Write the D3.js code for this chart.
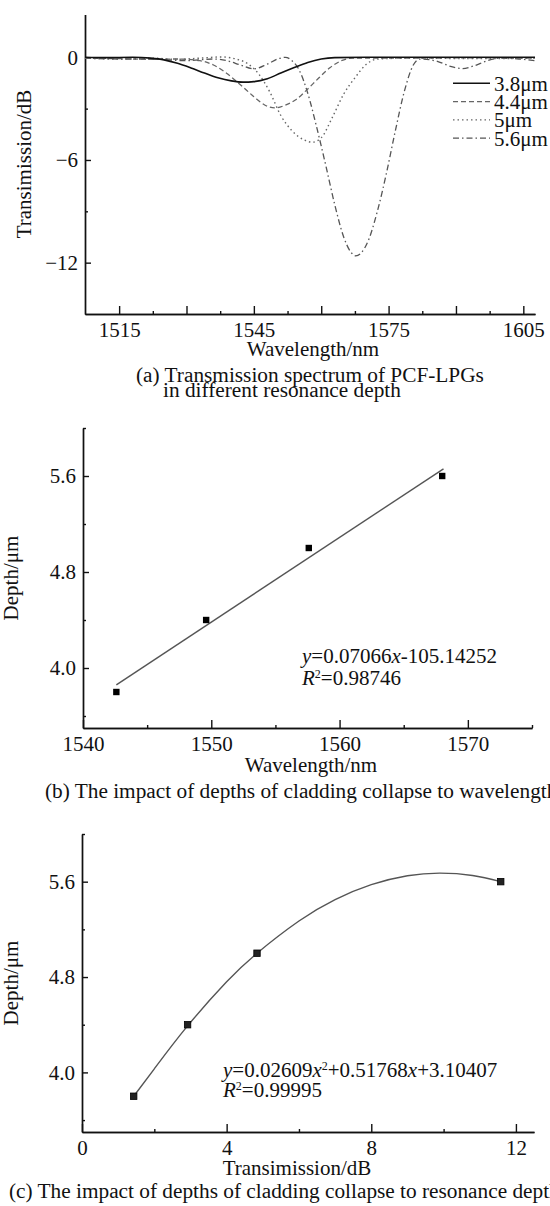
<!DOCTYPE html>
<html lang="en">
<head>
  <meta charset="UTF-8">
  <title>PCF-LPG resonance depth figure</title>
  <script src="https://d3js.org/d3.v7.min.js"></script>
  <style>
    body { margin: 0; background: #fff; }
    svg { display: block; background: #fff; }
    text { font-family: "Liberation Serif", "Times New Roman", serif; font-size: 21px; fill: #111; }
    .axis path, .axis line { stroke: #111; stroke-width: 1.4; }
    .axis text { font-family: "Liberation Serif", "Times New Roman", serif; font-size: 21px; fill: #111; }
    .caption { font-size: 21.3px; }
  </style>
</head>
<body>
  <svg width="550" height="1206"></svg>
  <script>
  // ---- data ----
  // (a) transmission spectra, [wavelength nm, transmission dB]
  const spec38 = [[1507.4,0],[1512,-0.02],[1518,0],[1522,-0.05],[1525,-0.15],[1528,-0.35],[1531,-0.62],[1534,-0.92],[1537,-1.2],[1540,-1.38],[1542.6,-1.45],[1545,-1.42],[1548,-1.25],[1551,-0.92],[1554,-0.6],[1557,-0.3],[1560,-0.1],[1563,-0.02],[1570,0],[1585,0],[1600,0],[1607.6,0]];
  const spec44 = [[1507.4,-0.05],[1515,-0.08],[1522,-0.12],[1528,-0.1],[1533,-0.2],[1536,-0.45],[1539,-0.95],[1542,-1.6],[1545,-2.3],[1547.5,-2.8],[1549.7,-2.96],[1552,-2.8],[1554.5,-2.45],[1557,-1.85],[1559.5,-1.2],[1562,-0.6],[1564.5,-0.2],[1567,-0.05],[1580,-0.05],[1595,-0.03],[1607.6,-0.05]];
  const spec50 = [[1507.4,-0.05],[1515,-0.1],[1522,-0.05],[1528,-0.12],[1533,-0.05],[1538,0.02],[1541,-0.1],[1543.5,-0.35],[1546,-0.95],[1548.5,-2.0],[1551,-3.4],[1553.5,-4.3],[1556,-4.8],[1558,-4.96],[1560,-4.7],[1562.5,-3.5],[1565,-2.15],[1567.5,-1.2],[1570,-0.42],[1572.5,-0.1],[1580,-0.05],[1595,-0.08],[1607.6,-0.05]];
  const spec56 = [[1507.4,-0.05],[1515,-0.1],[1522,-0.1],[1530,-0.2],[1536,-0.1],[1539,-0.2],[1542,-0.45],[1545,-0.68],[1548,-0.4],[1550.5,-0.08],[1552,0],[1553.5,-0.2],[1555,-0.7],[1557,-2.1],[1559,-4.1],[1561,-6.3],[1563,-8.6],[1565,-10.5],[1566.5,-11.35],[1567.7,-11.6],[1569,-11.4],[1570.5,-10.7],[1572.5,-9.0],[1574.5,-6.8],[1576.5,-4.3],[1578.5,-2.0],[1580.5,-0.45],[1582,-0.1],[1586,-0.25],[1589,-0.55],[1591.5,-0.66],[1594,-0.5],[1597,-0.2],[1600,-0.05],[1604,-0.1],[1607.6,-0.2]];
  const legendLabels = ["3.8\u03bcm", "4.4\u03bcm", "5\u03bcm", "5.6\u03bcm"];

  // (b) and (c) measured points
  const depths = [3.8, 4.4, 5.0, 5.6];
  const resonanceWl = [1542.6, 1549.6, 1557.6, 1568.0];
  const resonanceDip = [1.43, 2.92, 4.84, 11.58];
  // fitted line / curve as drawn in the figure
  const fitLineB = [[1542.6, 3.86], [1568.1, 5.66]];
  const fitCurveC = [[1.43,3.80],[2.0,4.03],[2.92,4.39],[4.0,4.76],[4.84,5.00],[6.0,5.27],[7.0,5.45],[8.0,5.575],[9.0,5.65],[9.9,5.672],[10.8,5.652],[11.58,5.60]];

  // tick values
  const xTicksA = [1515, 1530, 1545, 1560, 1575, 1590, 1605];
  const xLabelsA = [1515, 1545, 1575, 1605];
  const xMinorA = [1522.5, 1537.5, 1552.5, 1567.5, 1582.5, 1597.5];
  const yTicksA = [0, -6, -12];
  const yMinorA = [-3, -9];
  const xTicksB = [1540, 1550, 1560, 1570];
  const xMinorB = [1545, 1555, 1565, 1575];
  const depthTicks = [4.0, 4.8, 5.6];
  const depthMinor = [3.6, 4.4, 5.2, 6.0];
  const xTicksC = [0, 4, 8, 12];
  const xMinorC = [2, 6, 10];

  const svg = d3.select("svg");

  // helper: draw an axis with inward ticks plus a set of shorter minor ticks
  function drawAxes(xs, ys, opt) {
    const h = ys.range()[0], l = xs.range()[0];
    svg.append("g").attr("class", "axis").attr("transform", `translate(0,${h})`)
      .call(d3.axisBottom(xs).tickValues(opt.xMinor).tickSizeInner(-3).tickSizeOuter(0).tickFormat(""));
    svg.append("g").attr("class", "axis").attr("transform", `translate(0,${h})`)
      .call(d3.axisBottom(xs).tickValues(opt.xTicks).tickSizeInner(-8).tickSizeOuter(0).tickPadding(8.5)
        .tickFormat(d => opt.xLabels.includes(d) ? d3.format(opt.xFmt)(d) : ""));
    svg.append("g").attr("class", "axis").attr("transform", `translate(${l},0)`)
      .call(d3.axisLeft(ys).tickValues(opt.yMinor).tickSizeInner(-3).tickSizeOuter(0).tickFormat(""));
    svg.append("g").attr("class", "axis").attr("transform", `translate(${l},0)`)
      .call(d3.axisLeft(ys).tickValues(opt.yTicks).tickSizeInner(-6).tickSizeOuter(0).tickPadding(7)
        .tickFormat(d3.format(opt.yFmt)));
    // drop the empty label nodes of unlabeled ticks
    svg.selectAll(".axis text").filter(function() { return !this.textContent; }).remove();
  }

  // ================= (a) =================
  const xA = d3.scaleLinear().domain([1507.4, 1607.6]).range([85, 535]);
  const yA = d3.scaleLinear().domain([-15, 2.5]).range([314, 14.5]);
  drawAxes(xA, yA, { xTicks: xTicksA, xLabels: xLabelsA, xMinor: xMinorA, xFmt: "d",
                     yTicks: yTicksA, yMinor: yMinorA, yFmt: "d" });

  const styles = [
    { data: spec38, color: "#111", width: 1.6, dash: null },
    { data: spec44, color: "#666", width: 1.3, dash: "5,3" },
    { data: spec50, color: "#666", width: 1.4, dash: "1.5,3" },
    { data: spec56, color: "#555", width: 1.3, dash: "6,3,1.5,3" }
  ];
  const lineA = d3.line().x(d => xA(d[0])).y(d => yA(d[1])).curve(d3.curveMonotoneX);
  // draw the deepest one first so the solid curve stays on top
  styles.slice().reverse().forEach(s => {
    svg.append("path").datum(s.data)
      .attr("d", lineA).attr("fill", "none")
      .attr("stroke", s.color).attr("stroke-width", s.width)
      .attr("stroke-dasharray", s.dash);
  });

  // legend
  const legend = svg.append("g");
  styles.forEach((s, i) => {
    const y = 83.3 + i * 18.3;
    legend.append("line").attr("x1", 453).attr("x2", 490).attr("y1", y).attr("y2", y)
      .attr("stroke", s.color).attr("stroke-width", s.width).attr("stroke-dasharray", s.dash);
    legend.append("text").attr("x", 494).attr("y", y).attr("dy", "0.35em").text(legendLabels[i]);
  });

  svg.append("text").attr("transform", "translate(31,164) rotate(-90)")
    .attr("text-anchor", "middle").text("Transimission/dB");
  svg.append("text").attr("x", 313).attr("y", 356).attr("text-anchor", "middle").text("Wavelength/nm");
  svg.append("text").attr("class", "caption").attr("x", 136).attr("y", 382).text("(a) Transmission spectrum of PCF-LPGs");
  svg.append("text").attr("class", "caption").attr("x", 163).attr("y", 397).text("in different resonance depth");

  // ================= (b) =================
  const xB = d3.scaleLinear().domain([1540, 1575]).range([83, 532]);
  const yB = d3.scaleLinear().domain([3.5, 6.0]).range([728, 428]);
  drawAxes(xB, yB, { xTicks: xTicksB, xLabels: xTicksB, xMinor: xMinorB, xFmt: "d",
                     yTicks: depthTicks, yMinor: depthMinor, yFmt: ".1f" });

  svg.append("path").datum(fitLineB)
    .attr("d", d3.line().x(d => xB(d[0])).y(d => yB(d[1])))
    .attr("fill", "none").attr("stroke", "#555").attr("stroke-width", 1.4);

  svg.append("g").selectAll("rect").data(d3.zip(resonanceWl, depths)).join("rect")
    .attr("x", d => xB(d[0]) - 3.2).attr("y", d => yB(d[1]) - 3.2)
    .attr("width", 6.4).attr("height", 6.4).attr("fill", "#000");

  const eqB = svg.append("text").attr("x", 302).attr("y", 663);
  eqB.append("tspan").attr("font-style", "italic").text("y");
  eqB.append("tspan").text("=0.07066");
  eqB.append("tspan").attr("font-style", "italic").text("x");
  eqB.append("tspan").text("-105.14252");
  const r2B = svg.append("text").attr("x", 302).attr("y", 685);
  r2B.append("tspan").attr("font-style", "italic").text("R");
  r2B.append("tspan").attr("font-size", "12px").attr("dy", "-7").text("2");
  r2B.append("tspan").attr("dy", "7").text("=0.98746");

  svg.append("text").attr("transform", "translate(18,578) rotate(-90)")
    .attr("text-anchor", "middle").text("Depth/\u03bcm");
  svg.append("text").attr("x", 311).attr("y", 772).attr("text-anchor", "middle").text("Wavelength/nm");
  svg.append("text").attr("class", "caption").attr("x", 45).attr("y", 798)
    .text("(b) The impact of depths of cladding collapse to wavelength");

  // ================= (c) =================
  const xC = d3.scaleLinear().domain([0, 12.5]).range([82, 534]);
  const yC = d3.scaleLinear().domain([3.5, 6.0]).range([1132, 834]);
  drawAxes(xC, yC, { xTicks: xTicksC, xLabels: xTicksC, xMinor: xMinorC, xFmt: "d",
                     yTicks: depthTicks, yMinor: depthMinor, yFmt: ".1f" });

  svg.append("path").datum(fitCurveC)
    .attr("d", d3.line().x(d => xC(d[0])).y(d => yC(d[1])).curve(d3.curveNatural))
    .attr("fill", "none").attr("stroke", "#555").attr("stroke-width", 1.4);

  svg.append("g").selectAll("rect").data(d3.zip(resonanceDip, depths)).join("rect")
    .attr("x", d => xC(d[0]) - 3.2).attr("y", d => yC(d[1]) - 3.2)
    .attr("width", 6.4).attr("height", 6.4).attr("fill", "#222").attr("stroke", "#000").attr("stroke-width", 0.8);

  const eqC = svg.append("text").attr("x", 223).attr("y", 1077);
  eqC.append("tspan").attr("font-style", "italic").text("y");
  eqC.append("tspan").text("=0.02609");
  eqC.append("tspan").attr("font-style", "italic").text("x");
  eqC.append("tspan").attr("font-size", "12px").attr("dy", "-7").text("2");
  eqC.append("tspan").attr("dy", "7").text("+0.51768");
  eqC.append("tspan").attr("font-style", "italic").text("x");
  eqC.append("tspan").text("+3.10407");
  const r2C = svg.append("text").attr("x", 223).attr("y", 1097);
  r2C.append("tspan").attr("font-style", "italic").text("R");
  r2C.append("tspan").attr("font-size", "12px").attr("dy", "-7").text("2");
  r2C.append("tspan").attr("dy", "7").text("=0.99995");

  svg.append("text").attr("transform", "translate(18,983) rotate(-90)")
    .attr("text-anchor", "middle").text("Depth/\u03bcm");
  svg.append("text").attr("x", 297).attr("y", 1175).attr("text-anchor", "middle").text("Transimission/dB");
  svg.append("text").attr("class", "caption").attr("x", 9).attr("y", 1198)
    .text("(c) The impact of depths of cladding collapse to resonance depth");
  </script>
</body>
</html>
